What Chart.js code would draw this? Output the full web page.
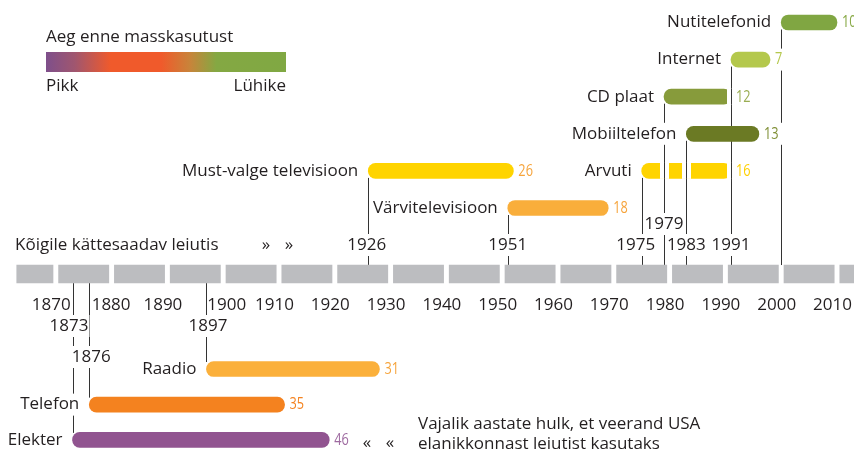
<!DOCTYPE html>
<html>
<head>
<meta charset="utf-8">
<script src="https://cdn.jsdelivr.net/npm/chart.js@4.4.1/dist/chart.umd.min.js"></script>
<style>
  html, body { margin: 0; padding: 0; background: #fff; }
</style>
</head>
<body>
<canvas id="chart" width="854" height="452"></canvas>
<script>
// Data: invention, year it appeared, years until a quarter of the US population used it
const inventions = ['Nutitelefonid', 'Internet', 'CD plaat', 'Mobiiltelefon', 'Arvuti',
    'Must-valge televisioon', 'Värvitelevisioon', 'Raadio', 'Telefon', 'Elekter'];
const startYears = [2000, 1991, 1979, 1983, 1975, 1926, 1951, 1897, 1876, 1873];
const adoptionYears = [10, 7, 12, 13, 16, 26, 18, 31, 35, 46];

// Timeline: decades and their tick labels
const decades = [1860, 1870, 1880, 1890, 1900, 1910, 1920, 1930, 1940, 1950, 1960, 1970, 1980, 1990, 2000, 2010];
const tickLabels = ['1870', '1880', '1890', '1900', '1910', '1920', '1930', '1940', '1950', '1960', '1970', '1980', '1990', '2000', '2010'];

// Layout (row lane of each bar, where its year label sits, colours)
const lanes = [0, 1, 2, 3, 4, 4, 5, 9.34, 10.3, 11.25];
const bandLane = 6.78;
const timelineStart = 1863;
const barColors = ['#80a642', '#b4c84c', '#879b3b', '#6b7a24', '#ffd400', '#ffd400', '#f9ae3b', '#fbb03b', '#f4821f', '#915490'];
const valueColors = ['#86a843', '#b4c84c', '#9aad52', '#7f8f35', '#ffd000', '#f6a43c', '#f6a43c', '#f6a43c', '#f4821f', '#9e6aa0'];
const yearLabelY = [null, 245, 224, 245, 245, 245, 245, 326, 357, 326];
const yearLabelDx = [0, 0, 0, 0, -6, -1.5, 0, 1.5, 2, -3.5];
const tickNudge = { 1880: 4, 1900: 8 };
// bars that get a white gap where another invention's line passes through
const cutBars = { 4: [1979, 1983, 1991], 2: [1991] };

const FONT = '17px "Open Sans"';
const INK = '#231f20';
const LINE = '#333333';

function drawText(ctx, text, x, y, align, color, opts = {}) {
    const sx = opts.sx || 1;
    const pad = opts.pad === undefined ? 1 : opts.pad;
    ctx.font = opts.font || FONT;
    const w = ctx.measureText(text).width * sx;
    const left = align === 'right' ? x - w : align === 'center' ? x - w / 2 : x;
    if (opts.bg !== false) {
        ctx.fillStyle = '#fff';
        ctx.fillRect(left - pad, y - 11, w + pad * 2, 22);
    }
    ctx.save();
    ctx.translate(left, y);
    ctx.scale(sx, 1);
    ctx.fillStyle = color;
    ctx.textAlign = 'left';
    ctx.textBaseline = 'middle';
    ctx.fillText(text, 0, 0);
    ctx.restore();
}

const overlay = {
    id: 'overlay',
    beforeDatasetsDraw(chart) {
        const { ctx } = chart;
        const xs = chart.scales.x, ys = chart.scales.y;
        const bandTop = ys.getPixelForValue(bandLane) - 9;
        const bandBottom = ys.getPixelForValue(bandLane) + 9;
        ctx.save();
        ctx.strokeStyle = LINE;
        ctx.lineWidth = 1;
        // connector from each bar to the timeline
        startYears.forEach((yr, i) => {
            const x = Math.round(xs.getPixelForValue(yr)) + 0.5;
            const yb = ys.getPixelForValue(lanes[i]);
            ctx.beginPath();
            if (lanes[i] < bandLane) {
                ctx.moveTo(x, yb + 7);
                ctx.lineTo(x, bandTop);
            } else {
                ctx.moveTo(x, bandBottom);
                ctx.lineTo(x, yb - 7);
            }
            ctx.stroke();
        });
        ctx.restore();
    },
    afterDatasetsDraw(chart) {
        const { ctx } = chart;
        const xs = chart.scales.x, ys = chart.scales.y;

        // gaps in bars crossed by other lines
        ctx.save();
        Object.keys(cutBars).forEach(k => {
            const yc = ys.getPixelForValue(lanes[k]);
            cutBars[k].forEach(yr => {
                const x = Math.round(xs.getPixelForValue(yr)) + 0.5;
                ctx.fillStyle = '#fff';
                ctx.fillRect(x - 4.5, yc - 8, 9, 16);
                ctx.strokeStyle = LINE;
                ctx.beginPath();
                ctx.moveTo(x, yc - 8);
                ctx.lineTo(x, yc + 8);
                ctx.stroke();
            });
        });
        ctx.restore();

        // names, values, year labels
        inventions.forEach((name, i) => {
            const y = ys.getPixelForValue(lanes[i]);
            const x0 = xs.getPixelForValue(startYears[i]);
            const x1 = xs.getPixelForValue(startYears[i] + adoptionYears[i]);
            drawText(ctx, name, x0 - 10, y, 'right', INK);
            drawText(ctx, String(adoptionYears[i]), x1 + 5, y, 'left', valueColors[i], { sx: 0.75, pad: 4 });
            if (yearLabelY[i] !== null) {
                drawText(ctx, String(startYears[i]), x0 + yearLabelDx[i], yearLabelY[i], 'center', INK);
            }
        });

        // decade tick labels
        tickLabels.forEach(t => {
            const x = xs.getPixelForValue(+t) - 4.5 + (tickNudge[t] || 0);
            drawText(ctx, t, x, 305, 'center', INK, { bg: false });
        });

        drawText(ctx, 'Kõigile kättesaadav leiutis', 15, 245, 'left', INK, { bg: false });
        drawText(ctx, '»', 266, 245, 'center', INK, { bg: false });
        drawText(ctx, '»', 289, 245, 'center', INK, { bg: false });
        drawText(ctx, '«', 367, 443, 'center', INK, { bg: false });
        drawText(ctx, '«', 390, 443, 'center', INK, { bg: false });
        drawText(ctx, 'Vajalik aastate hulk, et veerand USA', 418, 424, 'left', INK, { bg: false });
        drawText(ctx, 'elanikkonnast leiutist kasutaks', 418, 444, 'left', INK, { bg: false });

        // legend
        drawText(ctx, 'Aeg enne masskasutust', 46, 37, 'left', INK, { bg: false });
        const g = ctx.createLinearGradient(46, 0, 286, 0);
        g.addColorStop(0, '#7e4f8b');
        g.addColorStop(0.12, '#a0566f');
        g.addColorStop(0.27, '#f05a2b');
        g.addColorStop(0.48, '#f05a2b');
        g.addColorStop(0.6, '#c8843a');
        g.addColorStop(0.71, '#84a843');
        g.addColorStop(1, '#80a843');
        ctx.fillStyle = g;
        ctx.fillRect(46, 52, 240, 20);
        drawText(ctx, 'Pikk', 46, 86, 'left', INK, { bg: false });
        drawText(ctx, 'Lühike', 286, 86, 'right', INK, { bg: false });
    }
};

const timelineData = decades.map(d => ({ x: [Math.max(d + 0.5, timelineStart), d + 9.5], y: bandLane }));
const inventionData = inventions.map((n, i) => ({ x: [startYears[i], startYears[i] + adoptionYears[i]], y: lanes[i] }));

const pxPerLane = 37.1;
const yMin = -22.5 / pxPerLane;

new Chart(document.getElementById('chart').getContext('2d'), {
    type: 'bar',
    data: {
        datasets: [
            {
                label: 'Ajatelg',
                data: timelineData,
                backgroundColor: '#bcbdc0',
                barThickness: 18,
                grouped: false,
                borderRadius: 0
            },
            {
                label: 'Leiutised',
                data: inventionData,
                backgroundColor: barColors,
                barThickness: 15,
                borderRadius: 8,
                borderSkipped: false,
                grouped: false
            }
        ]
    },
    options: {
        indexAxis: 'y',
        responsive: false,
        animation: false,
        events: [],
        layout: { padding: 0 },
        plugins: {
            legend: { display: false },
            tooltip: { enabled: false }
        },
        scales: {
            x: { type: 'linear', min: 1860, max: 1860 + 854 / 5.58, display: false, offset: false },
            y: { type: 'linear', reverse: true, offset: false, min: yMin, max: yMin + 452 / pxPerLane, display: false }
        }
    },
    plugins: [overlay]
});
</script>
</body>
</html>
